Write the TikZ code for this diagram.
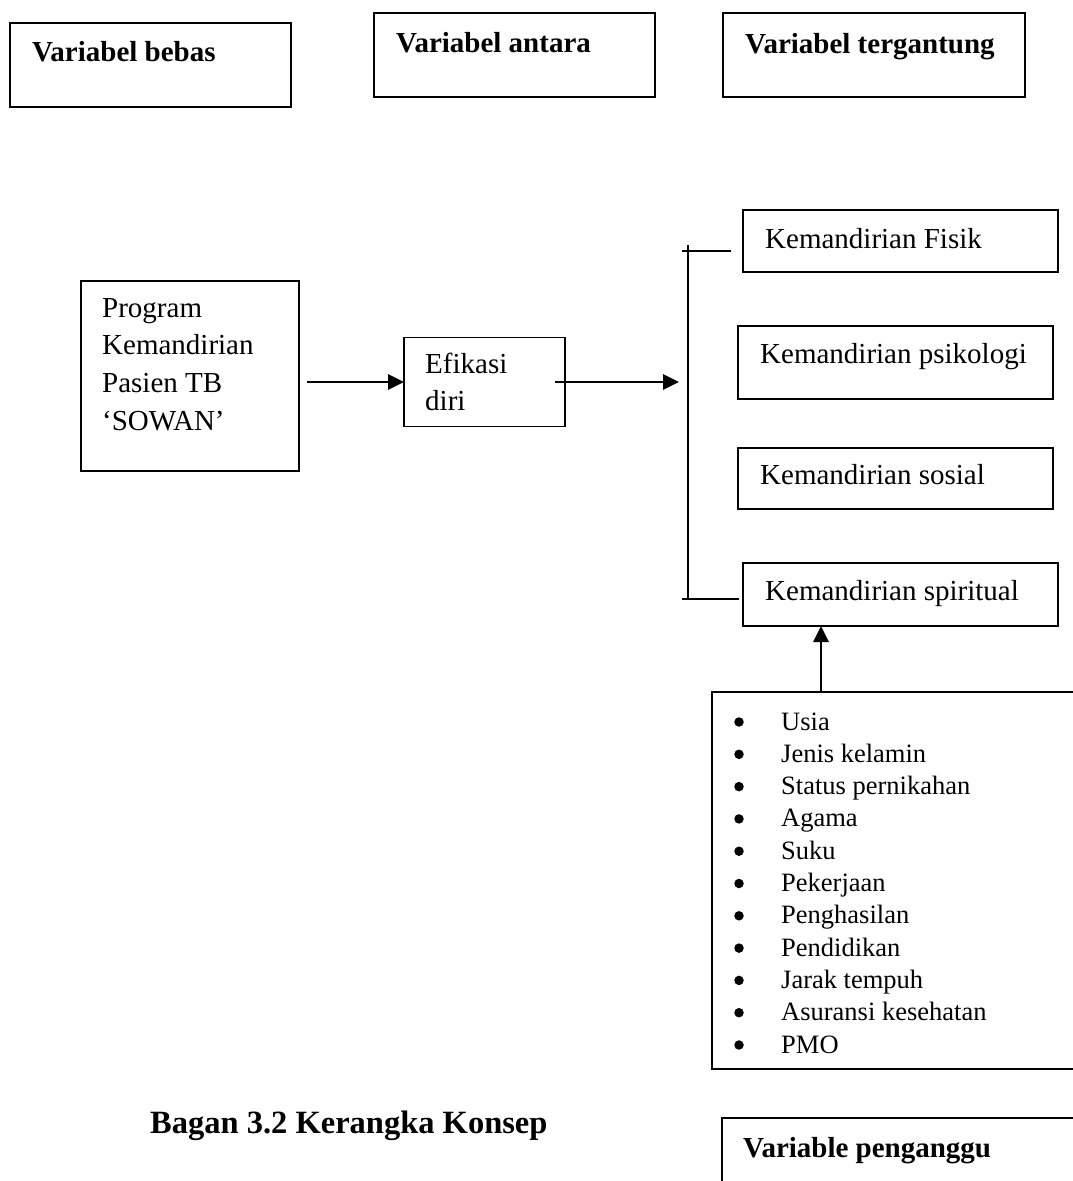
\documentclass[tikz,border=0pt]{standalone}
\usepackage{fontspec}
\setmainfont{Liberation Serif}
\usetikzlibrary{arrows.meta}
\begin{document}
\begin{tikzpicture}[x=1pt,y=-1pt,
  box/.style={draw, line width=1.8pt, rectangle, inner sep=0pt, outer sep=0pt},
  lbl/.style={anchor=base west, inner sep=0pt, font=\fontsize{29}{36}\selectfont},
  head/.style={anchor=base west, inner sep=0pt, font=\fontsize{29}{36}\selectfont\bfseries},
  item/.style={anchor=base west, inner sep=0pt, font=\fontsize{26.5}{32}\selectfont},
  dotmark/.style={circle, fill, inner sep=0pt, minimum size=9.5pt},
  arr/.style={line width=2.7pt, -{Triangle[length=16pt,width=15pt]}},
  link/.style={line width=1.9pt}]
\useasboundingbox (0,0) rectangle (1073,1181);
\fill[white] (0,0) rectangle (1073,1181);

% headings
\node[box, minimum width=281pt, minimum height=84pt] (bebas) at (150.5,65) {};
\node[head] (bebasT) at (32,61) {Variabel bebas};
\node[box, minimum width=281pt, minimum height=84pt] (antara) at (514.5,55) {};
\node[head] (antaraT) at (396,52) {Variabel antara};
\node[box, minimum width=302pt, minimum height=84pt] (terg) at (874,55) {};
\node[head] (tergT) at (745,53) {Variabel tergantung};

% independent variable
\node[box, minimum width=218pt, minimum height=190pt] (prog) at (190,376) {};
\foreach \t [count=\i from 0] in {Program, Kemandirian, Pasien TB, {‘SOWAN’}}
  \node[lbl] (prog\i) at (102,317+37.7*\i) {\t};

% intervening variable
\node[box, minimum width=161pt, minimum height=89pt] (efi) at (484.5,382) {};
\node[lbl] (efiA) at (425,373) {Efikasi};
\node[lbl] (efiB) at (425,410) {diri};

% dependent variables
\node[box, minimum width=315pt, minimum height=62pt] (fisik) at (900.5,241) {};
\node[lbl] (fisikT) at (765,248) {Kemandirian Fisik};
\node[box, minimum width=315pt, minimum height=73pt] (psi) at (895.5,362.5) {};
\node[lbl] (psiT) at (760,363) {Kemandirian psikologi};
\node[box, minimum width=315pt, minimum height=61pt] (sos) at (895.5,478.5) {};
\node[lbl] (sosT) at (760,484) {Kemandirian sosial};
\node[box, minimum width=315pt, minimum height=63pt] (spi) at (900.5,594.5) {};
\node[lbl] (spiT) at (765,600) {Kemandirian spiritual};

% confounding variables
\node[box, minimum width=378pt, minimum height=377pt] (conf) at (901,880.5) {};
\foreach \t [count=\i from 0] in {Usia, Jenis kelamin, Status pernikahan, Agama, Suku,
    Pekerjaan, Penghasilan, Pendidikan, Jarak tempuh, Asuransi kesehatan, PMO} {
  \node[dotmark] (dot\i) at (739,722+32.3*\i) {};
  \node[item] (itm\i) at (781,730+32.3*\i) {\t};
}
\node[box, minimum width=378pt, minimum height=104pt] (peng) at (911,1170) {};
\node[head] (pengT) at (743,1157) {Variable penganggu};

% caption
\node[anchor=base west, inner sep=0pt, font=\fontsize{32.5}{38}\selectfont\bfseries]
  (cap) at (150,1133) {Bagan 3.2 Kerangka Konsep};

% connectors
\coordinate (brIn) at (679,382);
\coordinate (brTop) at (688,245);
\coordinate (brBot) at (688,599);
\coordinate (tickTop) at (682,251);
\coordinate (tickBot) at (682,599);
\coordinate (upX) at (821,0);

\draw[arr] ([xshift=8pt]prog.east |- efi.west) -- (efi.west);
\draw[arr] ([xshift=-10pt]efi.east) -- (brIn);
\draw[link] (brTop) -- (brBot);
\draw[link] (tickTop) -- ([xshift=-12pt]fisik.west |- tickTop);
\draw[link] (tickBot) -- ([xshift=-4pt]spi.west |- tickBot);
\draw[arr] (conf.north -| upX) -- (spi.south -| upX);
\end{tikzpicture}
\end{document}
